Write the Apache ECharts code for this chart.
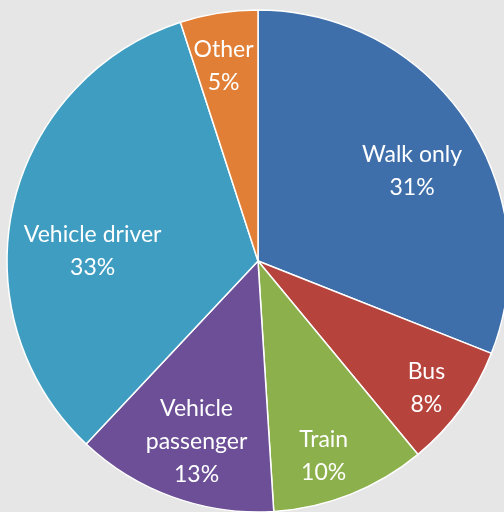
<!DOCTYPE html>
<html>
<head>
<meta charset="utf-8">
<script src="https://cdn.jsdelivr.net/npm/echarts@6/dist/echarts.min.js"></script>
<style>
  html, body { margin: 0; padding: 0; background: #e6e6e6; }
  #myChart { width: 504px; height: 512px; }
</style>
</head>
<body>
<div id="myChart"></div>
<script>
var categories = ['Walk only', 'Bus', 'Train', 'Vehicle passenger', 'Vehicle driver', 'Other'];
var labelText = ['Walk only', 'Bus', 'Train', 'Vehicle\npassenger', 'Vehicle driver', 'Other'];
var values = [31, 8, 10, 13, 33, 5];
var colors = ['#3f6fab', '#b6433c', '#8cb04b', '#6c4f97', '#3e9dc1', '#e17f37'];
// where each label sits: fraction of radius, angle nudge (deg)
var labelRadius = [0.71, 0.84, 0.82, 0.76, 0.66, 0.79];
var labelNudge = [4, 1, 3, -1, -9, -1];

var myChart = echarts.init(document.getElementById('myChart'));
var cx = 258, cy = 261, R = 251;
var total = values.reduce(function (a, b) { return a + b; }, 0);

var option = {
    backgroundColor: '#e6e6e6',
    series: [
        {
            type: 'pie',
            center: [cx, cy],
            radius: [0, R],
            startAngle: 90,
            clockwise: true,
            animation: false,
            itemStyle: {
                borderColor: '#ffffff',
                borderWidth: 1.5
            },
            label: {
                show: true,
                position: 'inside',
                color: '#ffffff',
                fontFamily: 'Lato',
                fontSize: 23,
                lineHeight: 33,
                align: 'center',
                formatter: function (p) {
                    return labelText[p.dataIndex] + '\n' + p.value + '%';
                }
            },
            labelLayout: function (p) {
                var before = 0;
                for (var i = 0; i < p.dataIndex; i++) before += values[i];
                var mid = (before + values[p.dataIndex] / 2) / total * 360 + labelNudge[p.dataIndex];
                var a = mid * Math.PI / 180;
                var r = R * labelRadius[p.dataIndex];
                return {
                    x: cx + r * Math.sin(a),
                    y: cy - r * Math.cos(a),
                    align: 'center',
                    verticalAlign: 'middle'
                };
            },
            data: categories.map(function (c, i) {
                return { name: c, value: values[i], itemStyle: { color: colors[i] } };
            })
        }
    ]
};

myChart.setOption(option);
</script>
</body>
</html>
